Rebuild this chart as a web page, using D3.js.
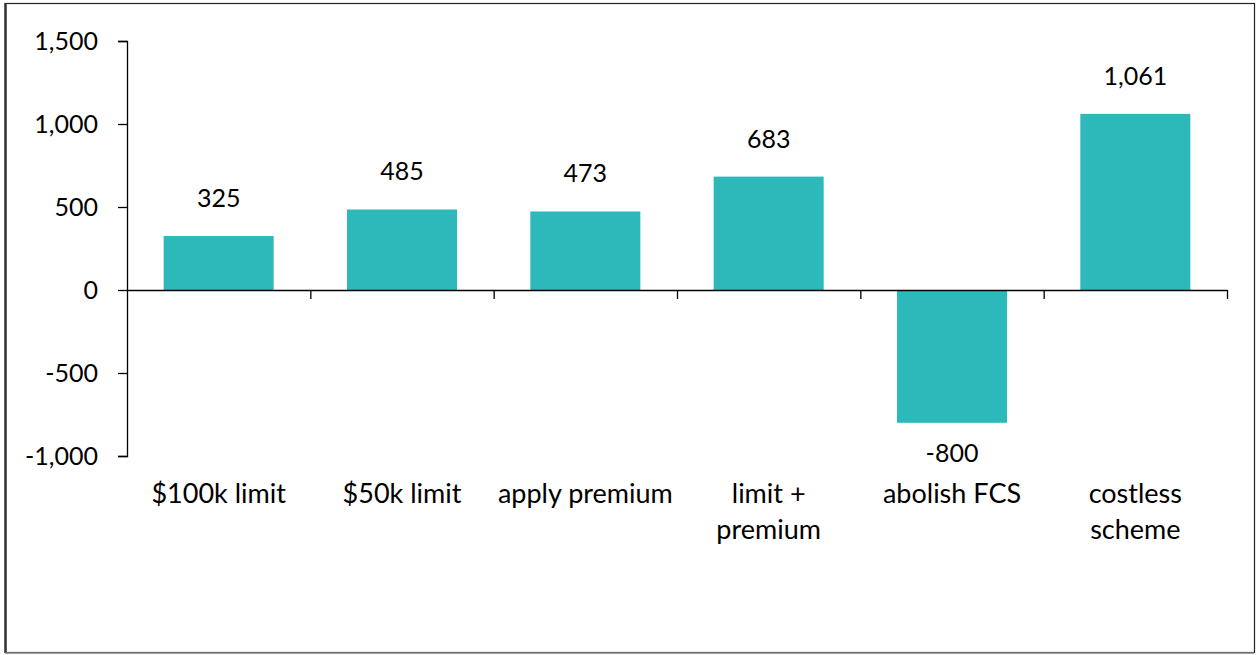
<!DOCTYPE html>
<html>
<head>
<meta charset="utf-8">
<script src="https://cdn.jsdelivr.net/npm/d3@7/dist/d3.min.js"></script>
<style>
  html, body { margin: 0; padding: 0; background: #fff; }
  svg { display: block; }
  text { font-family: Lato, "Open Sans", sans-serif; fill: #000; }
</style>
</head>
<body>
<svg id="chart" width="1258" height="655"></svg>
<script>
// Net cost of each option
const categories = ["$100k limit", "$50k limit", "apply premium", "limit +\npremium", "abolish FCS", "costless\nscheme"];
const values = [325, 485, 473, 683, -800, 1061];
const yTicks = [-1000, -500, 0, 500, 1000, 1500];

const W = 1258, H = 655;
const plot = { left: 127, right: 1227, top: 41, bottom: 456 };
const barColor = "#2db8b9";
const numSize = 25;
const catSize = 27;

const svg = d3.select("#chart");

// Outer frame
svg.append("rect")
  .attr("x", 5.5).attr("y", 3.5)
  .attr("width", 1249).attr("height", 649)
  .attr("fill", "none").attr("stroke", "#222").attr("stroke-width", 1.2);
svg.append("line")
  .attr("x1", 5.5).attr("x2", 5.5).attr("y1", 3).attr("y2", 653)
  .attr("stroke", "#333").attr("stroke-width", 2.5);
svg.append("line")
  .attr("x1", 5).attr("x2", 1254).attr("y1", 653).attr("y2", 653)
  .attr("stroke", "#888").attr("stroke-width", 1.5);

const x = d3.scaleBand()
  .domain(categories)
  .range([plot.left, plot.right])
  .paddingInner(0.4)
  .paddingOuter(0.2);

const y = d3.scaleLinear()
  .domain([-1000, 1500])
  .range([plot.bottom, plot.top]);

// Thousands separators with a plain hyphen for negatives
const fmt = d3.formatLocale({ decimal: ".", thousands: ",", grouping: [3], currency: ["$", ""], minus: "-" }).format(",");

// Bars
svg.append("g").selectAll("rect")
  .data(values)
  .join("rect")
  .attr("x", (d, i) => x(categories[i]))
  .attr("width", x.bandwidth())
  .attr("y", d => y(Math.max(0, d)))
  .attr("height", d => Math.abs(y(d) - y(0)))
  .attr("fill", barColor);

// Y axis
const yAxis = svg.append("g")
  .attr("transform", `translate(${plot.left},0)`)
  .call(d3.axisLeft(y).tickValues(yTicks).tickFormat(fmt).tickSize(9).tickPadding(20));
yAxis.select(".domain").attr("stroke", "#000").attr("stroke-width", 1.3);
yAxis.selectAll(".tick line").attr("stroke", "#000").attr("stroke-width", 1.3);
yAxis.selectAll(".tick text")
  .attr("font-size", numSize)
  .attr("font-family", "Lato, 'Open Sans', sans-serif")
  .attr("fill", "#000");

// X axis: tick marks sit between categories
const xEdges = d3.scaleLinear().domain([0, categories.length]).range([plot.left, plot.right]);
const xAxis = svg.append("g")
  .attr("transform", `translate(0,${y(0)})`)
  .call(d3.axisBottom(xEdges)
    .tickValues(d3.range(1, categories.length + 1))
    .tickFormat("")
    .tickSize(9)
    .tickSizeOuter(0));
xAxis.select(".domain").attr("stroke", "#000").attr("stroke-width", 1.3);
xAxis.selectAll(".tick line").attr("stroke", "#000").attr("stroke-width", 1.3);

// Value labels
svg.append("g").selectAll("text")
  .data(values)
  .join("text")
  .attr("x", (d, i) => x(categories[i]) + x.bandwidth() / 2)
  .attr("y", d => d >= 0 ? y(d) - 29 : y(d) + 39)
  .attr("text-anchor", "middle")
  .attr("font-size", numSize)
  .text(d => fmt(d));

// Category labels
const catText = svg.append("g").selectAll("text")
  .data(categories)
  .join("text")
  .attr("x", d => x(d) + x.bandwidth() / 2)
  .attr("y", 503)
  .attr("text-anchor", "middle")
  .attr("font-size", catSize);
catText.each(function(d) {
  const t = d3.select(this);
  d.split("\n").forEach((line, i) => {
    t.append("tspan")
      .attr("x", x(d) + x.bandwidth() / 2)
      .attr("dy", i === 0 ? 0 : 36)
      .text(line);
  });
});
</script>
</body>
</html>
